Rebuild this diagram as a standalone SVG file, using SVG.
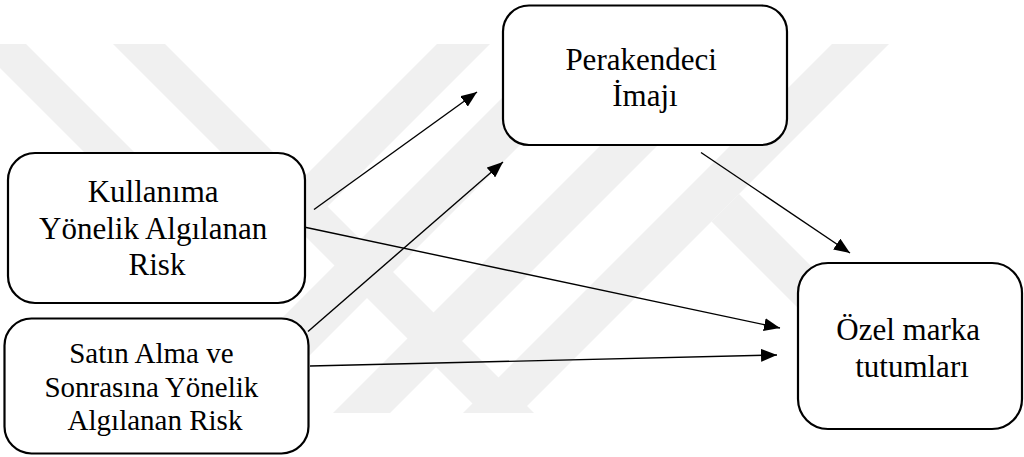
<svg xmlns="http://www.w3.org/2000/svg" width="1024" height="457" viewBox="0 0 1024 457">
  <defs>
    <style>
      .box { fill: #ffffff; stroke: #000000; stroke-width: 2.2; }
      .lbl { fill: #000000; text-anchor: middle; }
      .edge { stroke: #000000; stroke-width: 1.4; fill: none; marker-end: url(#head); }
      .mark { fill: #f0f0f0; }
    </style>
    <marker id="head" viewBox="0 0 16 13" refX="16" refY="6.5" markerWidth="16" markerHeight="13" markerUnits="userSpaceOnUse" orient="auto">
      <path d="M0,0 L16,6.5 L0,13 z" fill="#000000"/>
    </marker>
    <clipPath id="markClip">
      <rect x="0" y="44" width="1024" height="369"/>
    </clipPath>
  </defs>

  <rect width="1024" height="457" fill="#ffffff"/>

  <!-- faint background emblem: diagonal bands -->
  <g id="watermark" class="mark" clip-path="url(#markClip)">
    <polygon points="-24,44 26,44 231.5,249.5 437,44 490,44 233,301"/>
    <polygon points="113,44 165,44 534,413 482,413"/>
    <polygon points="832,44 889,44 520,413 463,413"/>
    <polygon points="556,44 621,44 252,413 187,413"/>
    <polygon points="702,44 759,44 390,413 333,413"/>
    <polygon points="711.5,221.5 739,194 958,413 903,413"/>
  </g>

  <!-- connectors -->
  <g id="connectors">
    <line class="edge" x1="314" y1="209.5" x2="477" y2="92"/>
    <line class="edge" x1="308" y1="331.5" x2="503" y2="162"/>
    <line class="edge" x1="301.5" y1="226.5" x2="780" y2="328"/>
    <line class="edge" x1="310" y1="366" x2="777" y2="355"/>
    <line class="edge" x1="701" y1="152.5" x2="850" y2="253"/>
  </g>

  <g id="node-kullanim-risk">
    <rect class="box" x="8" y="153" width="297" height="150" rx="27" ry="27"/>
    <text class="lbl" font-family="'Liberation Serif', 'DejaVu Serif', serif" font-size="31">
      <tspan x="157" y="202">Kullanıma</tspan>
      <tspan x="157" y="238.5">Yönelik Algılanan</tspan>
      <tspan x="157" y="275">Risk</tspan>
    </text>
  </g>

  <g id="node-satin-alma-risk">
    <rect class="box" x="4.5" y="318.5" width="304" height="135" rx="27" ry="27"/>
    <text class="lbl" font-family="'Liberation Serif', 'DejaVu Serif', serif" font-size="29">
      <tspan x="155" y="363">Satın Alma ve</tspan>
      <tspan x="155" y="396.5">Sonrasına Yönelik</tspan>
      <tspan x="155" y="430">Algılanan Risk</tspan>
    </text>
  </g>

  <g id="node-perakendeci-imaji">
    <rect class="box" x="503" y="5.5" width="284" height="139.5" rx="26" ry="26"/>
    <text class="lbl" font-family="'Liberation Serif', 'DejaVu Serif', serif" font-size="31">
      <tspan x="645" y="69.5">Perakendeci</tspan>
      <tspan x="645" y="106">İmajı</tspan>
    </text>
  </g>

  <g id="node-ozel-marka">
    <rect class="box" x="798" y="263" width="224" height="166" rx="30" ry="30"/>
    <text class="lbl" font-family="'Liberation Serif', 'DejaVu Serif', serif" font-size="31">
      <tspan x="912" y="340">Özel marka</tspan>
      <tspan x="912" y="377">tutumları</tspan>
    </text>
  </g>
</svg>
